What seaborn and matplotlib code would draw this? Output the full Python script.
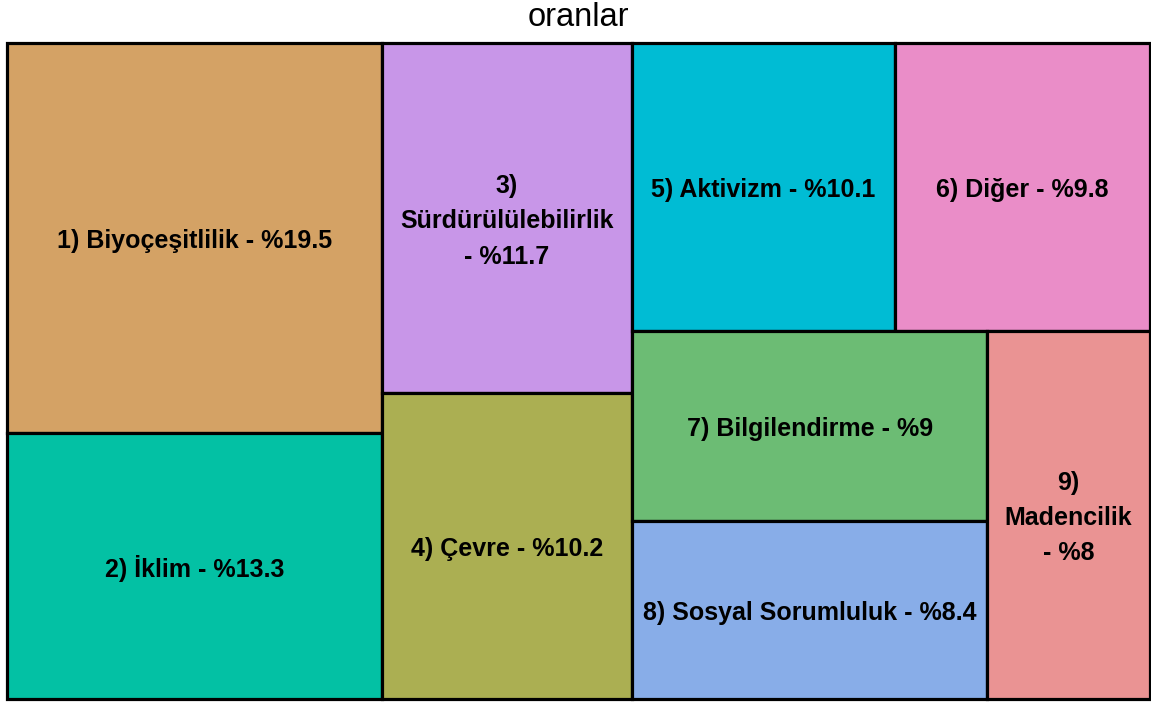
import matplotlib
matplotlib.use("Agg")
import matplotlib.pyplot as plt
import seaborn as sns

categories = ["Biyoçeşitlilik", "İklim", "Sürdürülülebilirlik", "Çevre", "Aktivizm",
              "Diğer", "Bilgilendirme", "Sosyal Sorumluluk", "Madencilik"]
values = [19.5, 13.3, 11.7, 10.2, 10.1, 9.8, 9, 8.4, 8]
colors = ["#D4A265", "#03C1A4", "#C896E8", "#ABAF52", "#00BCD4",
          "#EA8DC8", "#6CBC74", "#88ADE8", "#EA9393"]
title = "oranlar"

sns.set_theme(style="white")
plt.rcParams["font.family"] = ["Liberation Sans", "DejaVu Sans"]

FIG_W, FIG_H = 1151, 702
L, R, T, B = 7, 1150, 43, 699
W, H = R - L, B - T


def worst(row, side):
    s = sum(row)
    return max(max(side * side * r / (s * s), (s * s) / (side * side * r)) for r in row)


def squarify(areas, x, y, w, h):
    rects = []
    rest = list(areas)
    while rest:
        side = min(w, h)
        row = [rest[0]]
        i = 1
        while i < len(rest) and worst(row + [rest[i]], side) <= worst(row, side):
            row.append(rest[i])
            i += 1
        s = sum(row)
        if w >= h:
            thick = s / h
            yy = y
            for a in row:
                hh = a / thick
                rects.append((x, yy, thick, hh))
                yy += hh
            x += thick
            w -= thick
        else:
            thick = s / w
            xx = x
            for a in row:
                ww = a / thick
                rects.append((xx, y, ww, thick))
                xx += ww
            y += thick
            h -= thick
        rest = rest[len(row):]
    return rects


total = sum(values)
areas = [v / total * W * H for v in values]
rects = squarify(areas, 0, 0, W, H)

fig = plt.figure(figsize=(FIG_W / 100, FIG_H / 100), dpi=100)
ax = fig.add_axes([L / FIG_W, 1 - B / FIG_H, W / FIG_W, H / FIG_H])

for (x0, y0, w, h), c in zip(rects, colors):
    ax.bar(x0, h, width=w, bottom=y0, align="edge", color=c,
           edgecolor="black", linewidth=2.3, clip_on=False)

ax.set_xlim(0, W)
ax.set_ylim(H, 0)
ax.axis("off")

renderer = fig.canvas.get_renderer()
for n, ((x0, y0, w, h), name, v) in enumerate(zip(rects, categories, values), 1):
    parts = [f"{n})", name, f"- %{v:g}"]
    t = ax.text(x0 + w / 2, y0 + h / 2 + 3, " ".join(parts), ha="center", va="center",
                fontsize=18, fontweight="bold", color="black", linespacing=1.6)
    if t.get_window_extent(renderer).width > w - 12:
        t.set_text("\n".join(parts))

ax.set_title(title, fontsize=23.5, pad=12, color="black")

fig.savefig("out.png", dpi=100)
